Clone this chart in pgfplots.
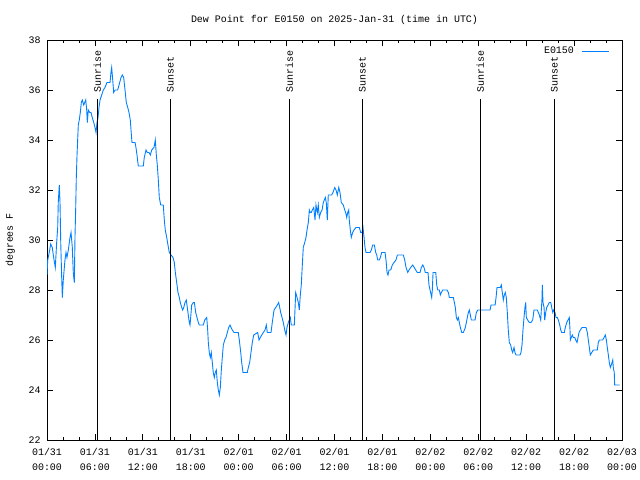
\documentclass[border=0pt]{standalone}
\usepackage{pgfplots}
\pgfplotsset{compat=1.18}
\usepackage{fontspec}
\setmainfont{Liberation Mono}
\definecolor{dp}{RGB}{0,128,255}
\pgfplotsset{myleg/.style={legend image code/.code={\draw[##1] (0bp,0bp) -- (27bp,0bp);}}}
\pgfplotstableread{
h v
0.00 28.6
0.09 29.2
0.34 29.6
0.46 29.84
0.66 29.7
0.88 29.2
1.04 28.9
1.21 29.9
1.34 30.5
1.41 31.5
1.54 32.2
1.63 31.5
1.72 29.9
1.84 28.5
1.92 27.7
2.04 28.4
2.25 29.2
2.38 29.5
2.50 29.3
2.67 29.6
2.88 30.1
3.01 30.3
3.17 29.7
3.29 28.7
3.42 28.3
3.51 30.2
3.59 31.2
3.67 32.5
3.76 33.4
3.92 34.6
4.04 34.8
4.17 35.1
4.30 35.5
4.42 35.6
4.60 35.4
4.72 35.5
4.85 35.6
4.97 35.2
5.05 34.7
5.17 35.2
5.35 35.1
5.51 35.1
5.67 34.9
5.85 34.7
6.01 34.5
6.14 34.3
6.26 34.7
6.39 34.9
6.51 35.3
6.64 35.6
6.85 35.8
7.05 36.0
7.26 36.1
7.51 36.3
7.89 36.3
8.01 36.7
8.10 36.9
8.23 36.4
8.35 35.9
8.52 36.0
8.85 36.0
9.02 36.2
9.27 36.5
9.43 36.6
9.60 36.5
9.77 36.0
9.93 35.5
10.11 35.3
10.27 35.1
10.43 34.8
10.52 34.4
10.64 33.9
11.02 33.9
11.14 33.7
11.27 33.4
11.43 32.96
12.06 32.96
12.18 33.3
12.40 33.6
12.56 33.5
12.77 33.5
12.94 33.4
13.11 33.6
13.40 33.7
13.56 34.0
13.69 33.4
13.81 33.0
13.94 32.4
14.06 31.7
14.24 31.4
14.56 31.4
14.69 30.8
14.81 30.4
14.99 30.1
15.15 29.8
15.31 29.5
15.53 29.4
15.78 29.3
15.94 29.1
16.07 28.7
16.24 28.3
16.40 27.9
16.57 27.7
16.69 27.5
16.87 27.3
16.99 27.2
17.12 27.3
17.28 27.5
17.44 27.6
17.57 27.3
17.69 27.0
17.82 26.7
17.91 26.6
17.99 26.9
18.12 27.4
18.32 27.5
18.45 27.5
18.62 27.1
18.78 26.9
18.95 26.7
19.07 26.6
19.57 26.6
19.75 26.8
20.00 26.9
20.12 26.4
20.20 25.9
20.32 25.5
20.45 25.3
20.57 25.5
20.70 25.1
20.82 24.7
20.95 24.5
21.07 24.7
21.20 24.8
21.33 24.3
21.45 24.0
21.58 23.8
21.70 24.1
21.83 24.8
21.95 25.3
22.08 25.8
22.25 26.0
22.41 26.1
22.58 26.3
22.75 26.5
22.92 26.6
23.04 26.5
23.20 26.4
23.42 26.3
23.95 26.3
24.08 26.0
24.26 25.5
24.38 25.1
24.54 24.7
25.08 24.7
25.21 24.9
25.38 25.1
25.54 25.5
25.71 25.9
25.88 26.2
26.38 26.3
26.55 26.0
26.71 26.1
26.89 26.2
27.09 26.3
27.30 26.4
27.46 26.6
27.59 26.3
28.05 26.3
28.21 26.7
28.43 27.2
28.64 27.3
28.84 27.4
29.01 27.5
29.14 27.3
29.26 27.1
29.43 26.9
29.59 26.7
29.77 26.4
29.93 26.2
30.05 26.5
30.22 26.7
30.34 26.8
30.47 26.9
30.59 26.6
30.97 26.6
31.05 27.2
31.14 27.9
31.31 27.7
31.47 27.5
31.59 27.2
31.72 27.8
31.84 28.2
31.97 29.0
32.09 29.7
32.27 29.9
32.43 30.1
32.56 30.4
32.72 30.7
32.85 31.2
32.97 31.1
33.10 31.1
33.22 31.2
33.40 31.3
33.56 30.8
33.68 31.4
33.85 31.1
33.97 31.4
34.10 30.9
34.27 31.1
34.44 31.2
34.60 31.5
34.72 31.6
34.85 31.7
34.97 31.5
35.10 30.8
35.22 31.8
35.65 31.8
35.81 31.9
36.03 32.1
36.19 32.0
36.35 31.8
36.53 32.1
36.69 31.9
36.85 31.5
37.10 31.4
37.28 31.2
37.40 31.1
37.53 30.9
37.65 31.1
37.78 31.2
37.85 30.8
37.98 30.4
38.10 30.1
38.28 30.3
38.44 30.4
38.69 30.5
39.11 30.5
39.28 30.3
39.45 30.3
39.57 30.5
39.70 30.1
39.82 29.7
39.95 29.5
40.45 29.5
40.61 29.6
40.78 29.8
40.99 29.8
41.16 29.5
41.29 29.4
41.41 29.2
41.61 29.2
41.74 29.3
41.91 29.5
42.33 29.5
42.45 29.2
42.58 28.7
42.70 28.6
42.83 28.8
43.04 28.8
43.24 29.0
43.45 29.1
43.70 29.2
43.87 29.4
44.04 29.4
44.62 29.4
44.79 29.2
44.96 28.9
45.17 28.7
45.33 28.8
45.54 28.9
45.79 29.0
45.99 28.9
46.17 28.8
46.37 28.7
46.71 28.7
46.87 28.9
47.05 29.0
47.21 28.9
47.37 28.7
47.71 28.7
47.83 28.2
48.17 27.7
48.25 28.0
48.34 28.7
48.68 28.7
48.80 28.2
48.93 28.0
49.13 28.0
49.25 27.8
49.38 27.9
49.55 28.0
49.68 28.0
50.09 28.0
50.26 27.9
50.38 27.7
50.88 27.7
51.01 27.5
51.13 27.3
51.26 26.9
51.38 26.8
51.51 26.9
51.63 26.7
51.76 26.5
51.93 26.3
52.13 26.3
52.26 26.4
52.38 26.5
52.51 26.7
52.63 26.9
52.76 27.1
52.88 27.2
53.01 27.0
53.13 26.8
53.60 26.8
53.76 27.1
53.94 27.2
55.48 27.2
55.60 27.4
55.76 27.4
56.11 27.4
56.23 27.7
56.35 28.1
56.51 28.1
56.76 28.1
56.89 28.2
57.01 27.9
57.14 27.6
57.26 27.8
57.39 27.9
57.51 27.7
57.64 27.1
57.76 26.4
57.89 25.9
58.06 25.8
58.19 25.6
58.31 25.5
58.48 25.7
58.60 25.5
58.73 25.4
59.23 25.4
59.35 25.5
59.48 25.8
59.60 26.4
59.73 26.9
59.85 27.3
59.94 27.5
60.02 26.9
60.19 26.8
60.39 26.7
60.60 26.7
60.82 26.8
60.98 27.2
61.40 27.2
61.52 27.1
61.65 27.0
61.82 26.8
61.90 27.2
61.99 27.7
62.02 28.2
62.11 27.5
62.24 27.3
62.32 26.8
62.45 27.1
62.57 27.3
62.74 27.4
62.90 27.5
63.08 27.5
63.20 27.3
63.33 27.1
63.45 27.2
63.61 27.1
63.74 26.9
63.90 26.9
64.03 26.8
64.20 26.6
64.33 26.4
64.45 26.3
64.78 26.3
64.90 26.5
65.08 26.7
65.24 26.8
65.40 26.9
65.49 26.4
65.53 26.0
65.65 26.1
65.78 26.2
65.90 26.1
66.08 26.1
66.24 25.97
66.37 25.9
66.49 26.1
66.62 26.3
66.78 26.4
66.99 26.5
67.49 26.5
67.66 26.3
67.78 26.0
67.91 25.7
68.03 25.4
68.21 25.5
68.41 25.6
68.91 25.6
69.03 25.9
69.16 26.0
69.58 26.0
69.75 26.1
69.91 26.2
70.04 26.0
70.16 25.7
70.29 25.4
70.41 25.1
70.54 24.9
70.66 25.0
70.84 25.2
70.91 24.9
71.03 24.7
71.08 24.2
71.70 24.2
}\dewtable
\begin{document}
\begin{tikzpicture}
\begin{axis}[
  name=ax, scale only axis, width=575bp, height=400bp,
  xmin=0, xmax=72, ymin=22, ymax=38,
  xtick={0,6,...,72},
  xticklabels={{01/31\\00:00},{01/31\\06:00},{01/31\\12:00},{01/31\\18:00},{02/01\\00:00},{02/01\\06:00},{02/01\\12:00},{02/01\\18:00},{02/02\\00:00},{02/02\\06:00},{02/02\\12:00},{02/02\\18:00},{02/03\\00:00}},
  minor x tick num=2,
  ytick={22,24,...,38},
  yticklabels={22,24,26,28,30,32,34,36,38},
  tick align=inside,
  major tick length=6bp, minor tick length=3bp,
  tick style={black, line width=0.8bp},
  axis line style={line width=0.9bp},
  xticklabel style={align=center, font=\fontsize{10}{15}\selectfont, yshift=-5bp},
  yticklabel style={font=\fontsize{10}{12}\selectfont, xshift=-3bp},
  title={Dew Point for E0150 on 2025-Jan-31 (time in UTC)},
  title style={at={(0.5,1)}, anchor=base, yshift=11.5bp, font=\fontsize{10}{12}\selectfont},
  ylabel={degrees F},
  ylabel style={at={(axis description cs:-0.064,0.5)}, anchor=center, font=\fontsize{10}{12}\selectfont},
  legend style={draw=none, fill=none, at={(1,1)}, anchor=north east, xshift=-9bp, yshift=-3bp, font=\fontsize{10}{12}\selectfont, legend cell align=right},
  legend plot pos=right,
]
\addplot[dp, line width=0.9bp, myleg] table[x=h, y=v] {\dewtable};
\addlegendentry{E0150\hspace*{6bp}}
\addplot[black, line width=0.9bp, forget plot] coordinates {(6.30,22) (6.30,35.64)};
\addplot[black, line width=0.9bp, forget plot] coordinates {(15.44,22) (15.44,35.64)};
\addplot[black, line width=0.9bp, forget plot] coordinates {(30.34,22) (30.34,35.64)};
\addplot[black, line width=0.9bp, forget plot] coordinates {(39.49,22) (39.49,35.64)};
\addplot[black, line width=0.9bp, forget plot] coordinates {(54.26,22) (54.26,35.64)};
\addplot[black, line width=0.9bp, forget plot] coordinates {(63.53,22) (63.53,35.64)};
\node[rotate=90, anchor=west, inner sep=0pt, font=\fontsize{10}{12}\selectfont] at (axis cs:6.30,35.88) {Sunrise};
\node[rotate=90, anchor=west, inner sep=0pt, font=\fontsize{10}{12}\selectfont] at (axis cs:15.44,35.88) {Sunset};
\node[rotate=90, anchor=west, inner sep=0pt, font=\fontsize{10}{12}\selectfont] at (axis cs:30.34,35.88) {Sunrise};
\node[rotate=90, anchor=west, inner sep=0pt, font=\fontsize{10}{12}\selectfont] at (axis cs:39.49,35.88) {Sunset};
\node[rotate=90, anchor=west, inner sep=0pt, font=\fontsize{10}{12}\selectfont] at (axis cs:54.26,35.88) {Sunrise};
\node[rotate=90, anchor=west, inner sep=0pt, font=\fontsize{10}{12}\selectfont] at (axis cs:63.53,35.88) {Sunset};
\end{axis}
\pgfresetboundingbox
\path[use as bounding box] ([xshift=-47bp,yshift=-40bp]ax.south west) rectangle ([xshift=18bp,yshift=40bp]ax.north east);
\end{tikzpicture}
\end{document}
